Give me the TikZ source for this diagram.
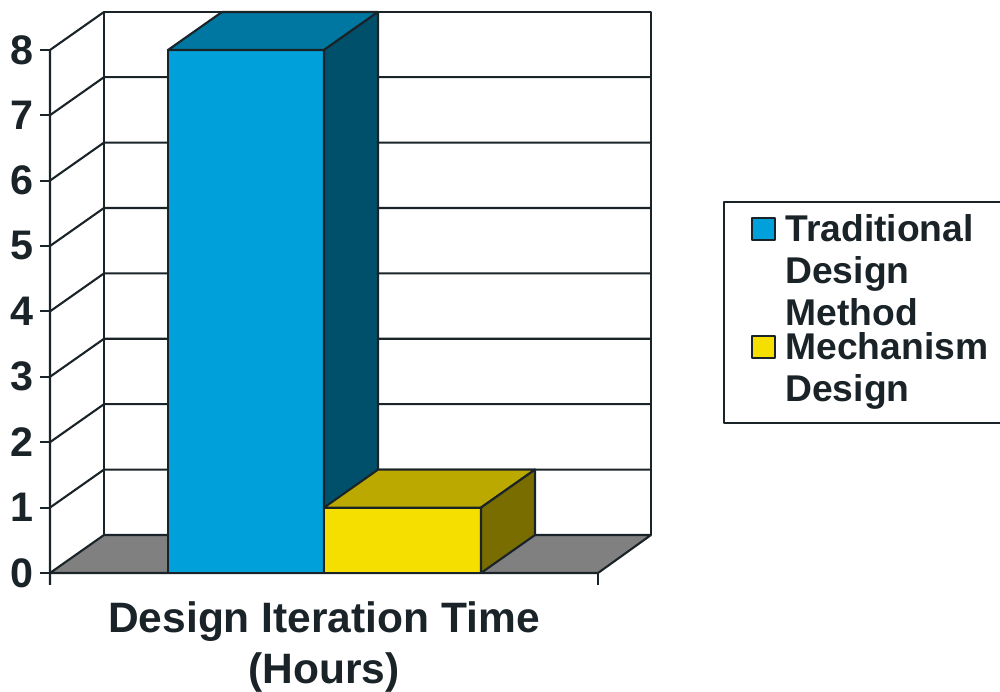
\documentclass[tikz,border=0pt]{standalone}
\usepackage{fontspec}
\setmainfont{Liberation Sans}
\usetikzlibrary{positioning}
\definecolor{ink}{RGB}{26,35,40}
\definecolor{blueFront}{RGB}{0,161,218}
\definecolor{blueTop}{RGB}{0,119,160}
\definecolor{blueSide}{RGB}{0,80,108}
\definecolor{yelFront}{RGB}{245,223,0}
\definecolor{yelTop}{RGB}{187,169,0}
\definecolor{yelSide}{RGB}{122,109,0}
\definecolor{floorGray}{RGB}{128,128,128}

\begin{document}
\begin{tikzpicture}[x=0.02cm,y=0.02cm,line join=round,
    frame/.style={draw=ink,line width=1.2pt},
    ylabel/.style={anchor=east,text=ink,inner sep=0pt,
        font=\fontsize{23.5}{26}\selectfont\bfseries},
    legtext/.style={anchor=base west,text=ink,inner sep=0pt,
        font=\fontsize{21.2}{23.3}\selectfont\bfseries}]
    \useasboundingbox (0,0) rectangle (1000,692);
    % Walls and grid
    \draw[frame] (104,157) -- (104,680) -- (651,680) -- (651,157);
    \draw[frame] (50,107) -- (50,642) -- (104,680);
    \foreach \k in {1,...,7} {
        \draw[frame] (50,119+65.4*\k) -- (104,157+65.4*\k) -- (651,157+65.4*\k);
    }
    % Ticks and numbers
    \foreach \k in {0,...,8} {
        \draw[frame] (40,119+65.4*\k) -- (50,119+65.4*\k);
        \node[ylabel] (num\k) at (34,119+65.4*\k) {\k};
    }
    % Floor
    \draw[frame,fill=floorGray] (50,119) -- (598,119) -- (651,157) -- (104,157) -- cycle;
    \draw[frame] (598,119) -- (598,107);

    % Traditional bar (8 h)
    \draw[frame,fill=blueFront] (168,119) rectangle (324,642);
    \draw[frame,fill=blueTop] (168,642) -- (222,680) -- (378,680) -- (324,642) -- cycle;
    \draw[frame,fill=blueSide] (324,119) -- (378,157) -- (378,680) -- (324,642) -- cycle;
    % Mechanism bar (1 h)
    \draw[frame,fill=yelFront] (324,119) rectangle (481,184.4);
    \draw[frame,fill=yelTop] (324,184.4) -- (378,222.4) -- (535,222.4) -- (481,184.4) -- cycle;
    \draw[frame,fill=yelSide] (481,119) -- (535,157) -- (535,222.4) -- (481,184.4) -- cycle;

    % Axis title
    \node[text=ink,align=center,font=\fontsize{24.2}{28.5}\selectfont\bfseries] (xtitle) at (324,45)
        {Design Iteration Time\\(Hours)};

    % Legend
    \draw[frame] (724,269) rectangle (1010,490);
    \draw[frame,fill=blueFront] (752,452) rectangle (775,474);
    \draw[frame,fill=yelFront] (752,334) rectangle (775,356);
    \node[legtext] (trad1) at (785,450) {Traditional};
    \node[legtext] (trad2) at (785,408) {Design};
    \node[legtext] (trad3) at (785,366) {Method};
    \node[legtext] (mech1) at (785,332) {Mechanism};
    \node[legtext] (mech2) at (785,290) {Design};
\end{tikzpicture}
\end{document}
